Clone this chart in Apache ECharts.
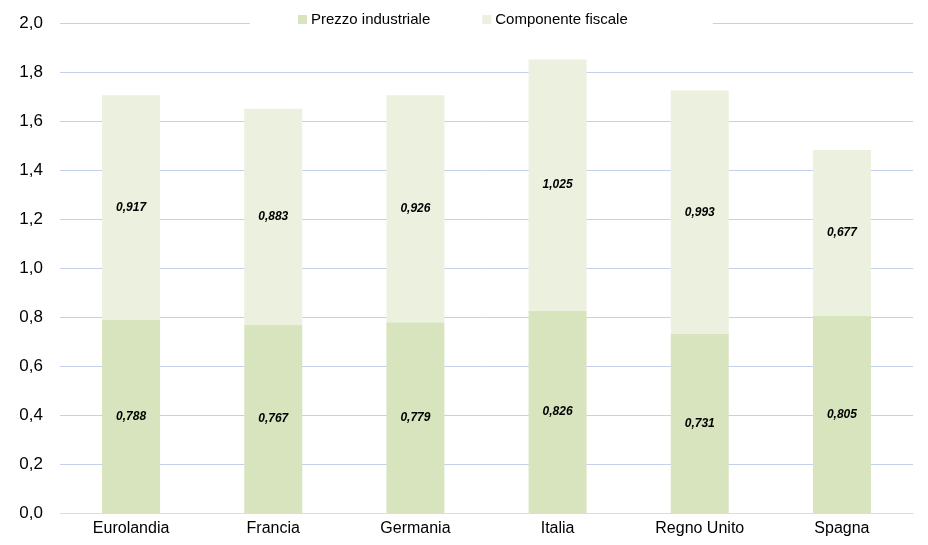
<!DOCTYPE html>
<html>
<head>
<meta charset="utf-8">
<script src="https://cdn.jsdelivr.net/npm/echarts@6/dist/echarts.min.js"></script>
<style>
html, body { margin: 0; padding: 0; background: #fff; }
#chart { width: 928px; height: 545px; }
</style>
</head>
<body>
<div id="chart"></div>
<script>
var paesi = ['Eurolandia', 'Francia', 'Germania', 'Italia', 'Regno Unito', 'Spagna'];
var prezzoIndustriale = [0.788, 0.767, 0.779, 0.826, 0.731, 0.805];
var componenteFiscale = [0.917, 0.883, 0.926, 1.025, 0.993, 0.677];

function virgola(v, d) {
	return v.toFixed(d).replace('.', ',');
}

var chart = echarts.init(document.getElementById('chart'));
var labelStyle = {
	show : true,
	position : 'inside',
	fontSize : 12,
	fontWeight : 'bold',
	fontStyle : 'italic',
	color : '#000',
	formatter : function(p) {
		return virgola(p.value, 3);
	}
};
var option = {
	animation : false,
	textStyle : {
		fontFamily : 'Liberation Sans, Arial, sans-serif'
	},
	legend : {
		top : 10,
		left : 250,
		backgroundColor : '#fff',
		padding : [2, 85, 2, 48],
		itemWidth : 9,
		itemHeight : 9,
		itemGap : 52,
		icon : 'rect',
		textStyle : {
			fontSize : 15,
			color : '#000',
			padding : [0, 0, 0, -1]
		},
		data : ['Prezzo industriale', 'Componente fiscale']
	},
	grid : {
		left : 60,
		right : 15,
		top : 23,
		bottom : 32
	},
	xAxis : {
		type : 'category',
		data : paesi,
		axisTick : { show : false },
		axisLine : { lineStyle : { color : '#d9dde6' } },
		axisLabel : { fontSize : 16, color : '#000', margin : 8 }
	},
	yAxis : {
		type : 'value',
		min : 0,
		max : 2,
		interval : 0.2,
		axisLabel : {
			fontSize : 17,
			color : '#000',
			margin : 17,
			formatter : function(v) { return virgola(v, 1); }
		},
		splitLine : { lineStyle : { color : '#c3d1ec' } }
	},
	series : [ {
		name : 'Prezzo industriale',
		type : 'bar',
		stack : 'tot',
		barWidth : 58,
		itemStyle : { color : '#d7e4bd' },
		label : labelStyle,
		data : prezzoIndustriale
	}, {
		name : 'Componente fiscale',
		type : 'bar',
		stack : 'tot',
		barWidth : 58,
		itemStyle : { color : '#ebf1de' },
		label : labelStyle,
		data : componenteFiscale
	} ]
};
chart.setOption(option);
</script>
</body>
</html>
